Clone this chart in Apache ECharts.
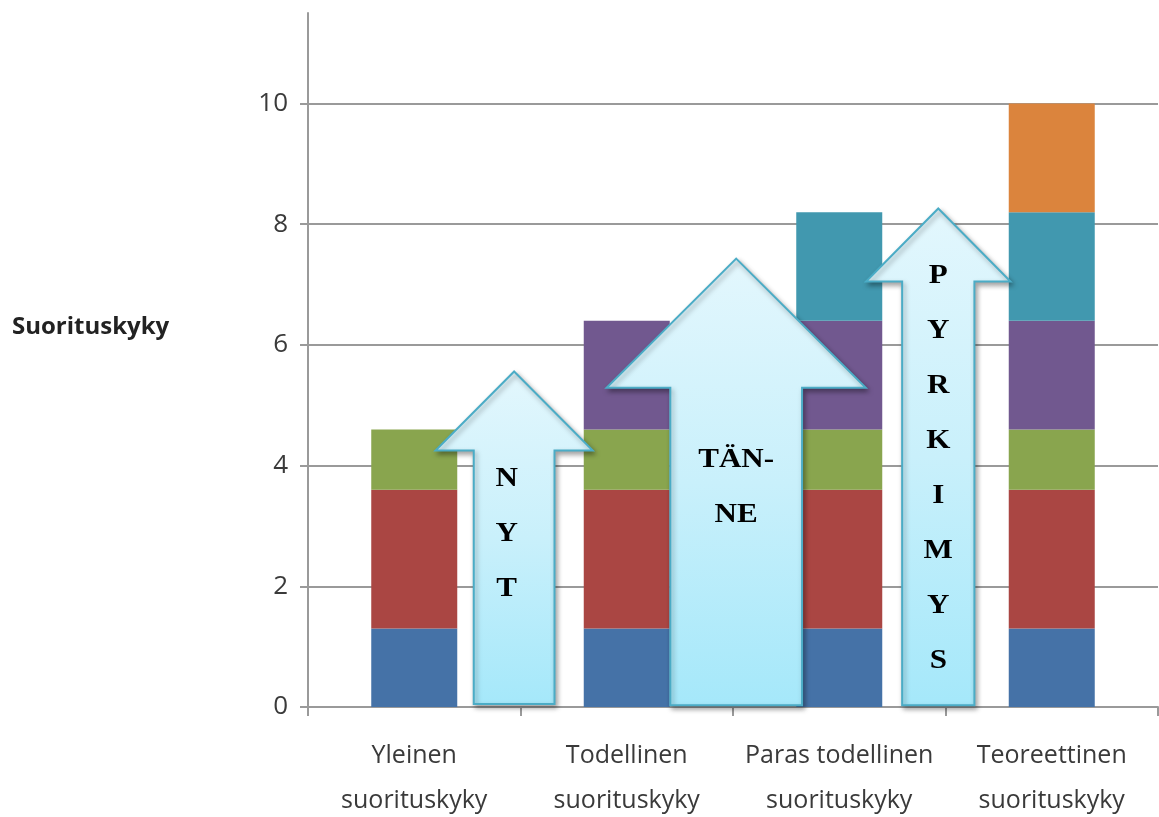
<!DOCTYPE html>
<html>
<head>
<meta charset="utf-8">
<title>Suorituskyky</title>
<script src="https://cdn.jsdelivr.net/npm/echarts@6/dist/echarts.min.js"></script>
<style>
  html, body { margin: 0; padding: 0; background: #ffffff; }
  #chart { width: 1159px; height: 817px; }
</style>
</head>
<body>
<div id="chart"></div>
<script>
// Categories along the x axis
const categories = [
  'Yleinen\nsuorituskyky',
  'Todellinen\nsuorituskyky',
  'Paras todellinen\nsuorituskyky',
  'Teoreettinen\nsuorituskyky'
];

// Stacked segments, bottom to top
const segment1 = [1.3, 1.3, 1.3, 1.3];
const segment2 = [2.3, 2.3, 2.3, 2.3];
const segment3 = [1.0, 1.0, 1.0, 1.0];
const segment4 = [null, 1.8, 1.8, 1.8];
const segment5 = [null, null, 1.8, 1.8];
const segment6 = [null, null, null, 1.8];

// Y axis tick values
const yTicks = [0, 2, 4, 6, 8, 10];

// Arrow labels
const arrowLabels = ['N\nY\nT', 'TÄN-\nNE', 'P\nY\nR\nK\nI\nM\nY\nS'];

const segmentColors = ['#4572A7', '#AA4643', '#89A54E', '#71588F', '#4198AF', '#DB843D'];
const segments = [segment1, segment2, segment3, segment4, segment5, segment6];

const chart = echarts.init(document.getElementById('chart'), null, { renderer: 'canvas' });

const axisMax = 11.5;
const gridColor = '#9a9a9a';

chart.setOption({
  animation: false,
  backgroundColor: '#ffffff',
  grid: { left: 308, right: 1, top: 13, bottom: 110, containLabel: false, outerBoundsMode: 'none' },
  xAxis: {
    type: 'category',
    data: categories,
    boundaryGap: true,
    axisLine: { show: true, lineStyle: { color: gridColor, width: 2 } },
    axisTick: { show: true, length: 9, alignWithLabel: false, lineStyle: { color: gridColor, width: 2 } },
    axisLabel: {
      color: '#3a3a3a',
      fontFamily: 'Open Sans',
      fontSize: 25,
      lineHeight: 45,
      margin: 26,
      interval: 0
    }
  },
  yAxis: {
    type: 'value',
    min: 0,
    max: axisMax,
    interval: 2,
    axisLine: { show: true, lineStyle: { color: gridColor, width: 2 } },
    axisTick: { show: true, length: 8, lineStyle: { color: gridColor, width: 2 } },
    splitLine: {
      show: true,
      lineStyle: {
        color: yTicks.map(() => gridColor).concat(['rgba(0,0,0,0)']),
        width: 2
      }
    },
    axisLabel: {
      color: '#3a3a3a',
      fontFamily: 'Open Sans',
      fontSize: 26,
      margin: 20,
      showMaxLabel: false,
      formatter: v => (yTicks.indexOf(v) >= 0 ? String(v) : '')
    }
  },
  series: segments.map((vals, i) => ({
    type: 'bar',
    stack: 'total',
    data: vals,
    barWidth: 86,
    itemStyle: { color: segmentColors[i] },
    z: 2
  }))
});

// Up arrows drawn over the bars; position in category units from the first
// category centre, heights in axis values, widths in category-band fractions.
const arrowDefs = [
  { label: 0, cx: 0.47, shaftHalf: 0.19, wingHalf: 0.37, tip: 5.56, base: 4.25, bottom: 0.05, textX: -0.035, textMid: 2.87 },
  { label: 1, cx: 1.515, shaftHalf: 0.31, wingHalf: 0.61, tip: 7.43, base: 5.29, bottom: 0.03, textX: 0.0, textMid: 3.64 },
  { label: 2, cx: 2.466, shaftHalf: 0.17, wingHalf: 0.34, tip: 8.26, base: 7.05, bottom: 0.03, textX: 0.0, textMid: 3.95 }
];

function drawArrows() {
  const c0 = chart.convertToPixel({ xAxisIndex: 0, yAxisIndex: 0 }, [0, 0]);
  const c1 = chart.convertToPixel({ xAxisIndex: 0, yAxisIndex: 0 }, [1, 0]);
  const band = c1[0] - c0[0];
  const px = u => c0[0] + u * band;
  const py = v => chart.convertToPixel({ yAxisIndex: 0 }, v);

  const elements = [];
  arrowDefs.forEach((a, i) => {
    const pts = [
      [px(a.cx), py(a.tip)],
      [px(a.cx + a.wingHalf), py(a.base)],
      [px(a.cx + a.shaftHalf), py(a.base)],
      [px(a.cx + a.shaftHalf), py(a.bottom)],
      [px(a.cx - a.shaftHalf), py(a.bottom)],
      [px(a.cx - a.shaftHalf), py(a.base)],
      [px(a.cx - a.wingHalf), py(a.base)]
    ];
    elements.push({
      type: 'polygon',
      id: 'arrow' + i,
      z: 100,
      shape: { points: pts },
      style: {
        fill: new echarts.graphic.LinearGradient(0, 0, 0, 1, [
          { offset: 0, color: '#E3F7FD' },
          { offset: 0.5, color: '#C9F0FB' },
          { offset: 1, color: '#A5E8FA' }
        ]),
        stroke: '#4BACC6',
        lineWidth: 2,
        shadowBlur: 5,
        shadowOffsetX: 2,
        shadowOffsetY: 3,
        shadowColor: 'rgba(0,0,0,0.35)'
      }
    });
    elements.push({
      type: 'text',
      id: 'arrowText' + i,
      z: 101,
      x: px(a.cx + a.textX),
      y: py(a.textMid),
      scaleX: 1.15,
      style: {
        text: arrowLabels[a.label],
        fontFamily: 'Liberation Serif',
        fontWeight: 'bold',
        fontSize: 27,
        lineHeight: 55,
        fill: '#000000',
        align: 'center',
        verticalAlign: 'middle'
      }
    });
  });

  // Axis title
  elements.push({
    type: 'text',
    id: 'yTitle',
    z: 101,
    x: 12,
    y: py(6.3),
    style: {
      text: 'Suorituskyky',
      fontFamily: 'Open Sans',
      fontWeight: 'bold',
      fontSize: 24,
      fill: '#222222',
      align: 'left',
      verticalAlign: 'middle'
    }
  });

  chart.setOption({ graphic: { elements: elements } });
}

drawArrows();
</script>
</body>
</html>
